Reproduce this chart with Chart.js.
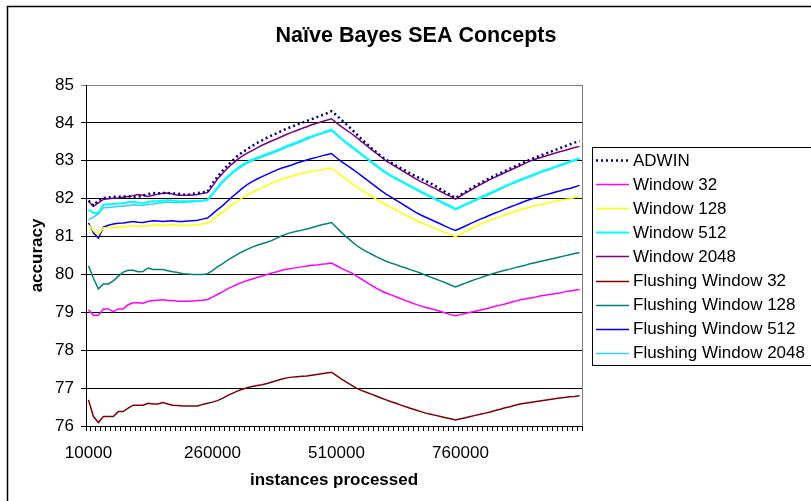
<!DOCTYPE html>
<html>
<head>
<meta charset="utf-8">
<script src="https://cdn.jsdelivr.net/npm/chart.js@4.4.0/dist/chart.umd.min.js"></script>
<style>
  html, body { margin: 0; padding: 0; background: #fff; }
</style>
</head>
<body>
<canvas id="chart" width="811" height="501"></canvas>
<script>
const instances = [
  10000, 20000, 30000, 40000, 50000, 60000, 70000, 80000, 90000, 100000,
  110000, 120000, 130000, 140000, 150000, 160000, 170000, 180000, 190000, 200000,
  210000, 220000, 230000, 240000, 250000, 260000, 270000, 280000, 290000, 300000,
  310000, 320000, 330000, 340000, 350000, 360000, 370000, 380000, 390000, 400000,
  410000, 420000, 430000, 440000, 450000, 460000, 470000, 480000, 490000, 500000,
  510000, 520000, 530000, 540000, 550000, 560000, 570000, 580000, 590000, 600000,
  610000, 620000, 630000, 640000, 650000, 660000, 670000, 680000, 690000, 700000,
  710000, 720000, 730000, 740000, 750000, 760000, 770000, 780000, 790000, 800000,
  810000, 820000, 830000, 840000, 850000, 860000, 870000, 880000, 890000, 900000,
  910000, 920000, 930000, 940000, 950000, 960000, 970000, 980000, 990000, 1000000
];
const tickLabels = ['10000', '260000', '510000', '760000'];

const adwin = [
  81.95, 81.82, 81.95, 82.02, 82.03, 82.05, 82.05, 82.06, 82.06, 82.05, 82.05, 82.08, 82.12, 82.15, 82.14, 82.15, 82.15, 82.14, 82.13, 82.11, 82.1, 82.13, 82.15, 82.17, 82.18,
  82.4, 82.58, 82.73, 82.87, 83.0, 83.12, 83.22, 83.31, 83.39, 83.47, 83.54, 83.61, 83.67, 83.73, 83.79, 83.85, 83.9, 83.95, 84.0, 84.05, 84.1, 84.15, 84.2, 84.25, 84.31,
  84.2, 84.08, 83.96, 83.84, 83.71, 83.58, 83.46, 83.34, 83.23, 83.12, 83.03, 82.95, 82.87, 82.8, 82.73, 82.66, 82.59, 82.53, 82.47, 82.4, 82.33, 82.25, 82.17, 82.09, 82.02,
  82.1, 82.18, 82.26, 82.34, 82.41, 82.48, 82.55, 82.61, 82.67, 82.73, 82.79, 82.85, 82.91, 82.97, 83.03, 83.08, 83.13, 83.18, 83.23, 83.28, 83.33, 83.38, 83.43, 83.48, 83.52
];
const win32 = [
  79.07, 78.92, 78.92, 79.09, 79.09, 79.02, 79.09, 79.09, 79.2, 79.25, 79.25, 79.24, 79.29, 79.31, 79.32, 79.33, 79.31, 79.31, 79.29, 79.29, 79.29, 79.3, 79.31, 79.32, 79.34,
  79.4, 79.47, 79.54, 79.62, 79.68, 79.74, 79.79, 79.84, 79.88, 79.92, 79.96, 80.0, 80.04, 80.07, 80.11, 80.14, 80.16, 80.18, 80.2, 80.22, 80.24, 80.25, 80.27, 80.28, 80.3,
  80.23, 80.16, 80.1, 80.04, 79.96, 79.88, 79.8, 79.72, 79.64, 79.57, 79.51, 79.46, 79.41, 79.36, 79.31, 79.26, 79.21, 79.17, 79.13, 79.1, 79.06, 79.02, 78.98, 78.94, 78.91,
  78.94, 78.97, 79.0, 79.03, 79.06, 79.09, 79.12, 79.16, 79.19, 79.22, 79.26, 79.29, 79.33, 79.35, 79.38, 79.4, 79.43, 79.45, 79.47, 79.49, 79.51, 79.54, 79.56, 79.58, 79.6
];
const win128 = [
  81.31, 81.15, 81.05, 81.23, 81.23, 81.24, 81.25, 81.26, 81.27, 81.28, 81.28, 81.27, 81.29, 81.3, 81.3, 81.29, 81.3, 81.31, 81.3, 81.29, 81.29, 81.3, 81.31, 81.33, 81.35,
  81.44, 81.54, 81.64, 81.74, 81.84, 81.93, 82.02, 82.1, 82.17, 82.23, 82.29, 82.35, 82.41, 82.47, 82.52, 82.56, 82.6, 82.63, 82.67, 82.7, 82.72, 82.74, 82.76, 82.79, 82.81,
  82.71, 82.61, 82.51, 82.41, 82.32, 82.23, 82.15, 82.07, 81.99, 81.91, 81.84, 81.77, 81.7, 81.63, 81.56, 81.5, 81.43, 81.37, 81.32, 81.26, 81.21, 81.15, 81.1, 81.05, 81.0,
  81.07, 81.13, 81.2, 81.26, 81.32, 81.38, 81.43, 81.48, 81.53, 81.57, 81.62, 81.66, 81.7, 81.74, 81.78, 81.81, 81.84, 81.87, 81.9, 81.93, 81.96, 81.98, 82.0, 82.03, 82.05
];
const win512 = [
  81.71, 81.62, 81.62, 81.84, 81.85, 81.86, 81.87, 81.88, 81.91, 81.92, 81.9, 81.88, 81.91, 81.93, 81.93, 81.95, 81.96, 81.95, 81.93, 81.93, 81.93, 81.94, 81.94, 81.95, 81.97,
  82.13, 82.3, 82.45, 82.58, 82.7, 82.8, 82.89, 82.97, 83.03, 83.08, 83.13, 83.18, 83.23, 83.28, 83.33, 83.39, 83.44, 83.49, 83.54, 83.6, 83.64, 83.69, 83.73, 83.78, 83.82,
  83.7, 83.59, 83.48, 83.38, 83.28, 83.18, 83.08, 82.98, 82.88, 82.78, 82.69, 82.61, 82.54, 82.47, 82.4, 82.33, 82.26, 82.19, 82.12, 82.06, 81.99, 81.93, 81.86, 81.8, 81.73,
  81.79, 81.85, 81.91, 81.97, 82.03, 82.09, 82.15, 82.21, 82.27, 82.33, 82.39, 82.44, 82.5, 82.55, 82.6, 82.65, 82.7, 82.75, 82.79, 82.84, 82.89, 82.93, 82.98, 83.02, 83.07
];
const win2048 = [
  81.93, 81.8, 81.89, 81.98, 82.0, 82.01, 82.02, 82.04, 82.06, 82.08, 82.11, 82.09, 82.06, 82.09, 82.12, 82.14, 82.15, 82.12, 82.09, 82.09, 82.09, 82.1, 82.11, 82.14, 82.16,
  82.33, 82.52, 82.66, 82.8, 82.92, 83.03, 83.12, 83.2, 83.27, 83.34, 83.41, 83.47, 83.53, 83.58, 83.64, 83.7, 83.75, 83.8, 83.85, 83.9, 83.95, 83.99, 84.03, 84.07, 84.11,
  84.0, 83.9, 83.81, 83.72, 83.62, 83.51, 83.41, 83.3, 83.2, 83.1, 83.0, 82.92, 82.84, 82.76, 82.68, 82.6, 82.52, 82.45, 82.39, 82.32, 82.26, 82.19, 82.12, 82.06, 81.99,
  82.07, 82.15, 82.22, 82.3, 82.37, 82.44, 82.51, 82.57, 82.63, 82.69, 82.75, 82.81, 82.87, 82.93, 82.99, 83.04, 83.08, 83.12, 83.16, 83.2, 83.24, 83.27, 83.31, 83.35, 83.38
];
const flush32 = [
  76.69, 76.25, 76.09, 76.25, 76.25, 76.25, 76.38, 76.38, 76.47, 76.55, 76.55, 76.55, 76.6, 76.58, 76.58, 76.62, 76.58, 76.55, 76.54, 76.53, 76.53, 76.53, 76.53, 76.57, 76.6,
  76.63, 76.67, 76.73, 76.8, 76.86, 76.92, 76.97, 77.01, 77.04, 77.07, 77.09, 77.12, 77.16, 77.2, 77.24, 77.27, 77.29, 77.3, 77.31, 77.32, 77.34, 77.36, 77.38, 77.4, 77.42,
  77.33, 77.24, 77.16, 77.08, 77.0, 76.94, 76.89, 76.84, 76.79, 76.74, 76.69, 76.64, 76.6, 76.55, 76.51, 76.46, 76.42, 76.38, 76.34, 76.31, 76.28, 76.25, 76.22, 76.19, 76.16,
  76.19, 76.22, 76.25, 76.28, 76.31, 76.34, 76.37, 76.41, 76.44, 76.48, 76.51, 76.55, 76.58, 76.6, 76.62, 76.64, 76.66, 76.68, 76.7, 76.72, 76.74, 76.75, 76.77, 76.78, 76.8
];
const flush128 = [
  80.23, 79.9, 79.62, 79.75, 79.75, 79.83, 79.95, 80.06, 80.11, 80.11, 80.07, 80.08, 80.17, 80.13, 80.13, 80.13, 80.1, 80.07, 80.05, 80.02, 80.01, 80.0, 80.0, 80.0, 80.02,
  80.1, 80.2, 80.28, 80.37, 80.45, 80.53, 80.6, 80.66, 80.72, 80.77, 80.81, 80.85, 80.9, 80.96, 81.02, 81.07, 81.11, 81.14, 81.17, 81.2, 81.23, 81.27, 81.31, 81.34, 81.37,
  81.24, 81.11, 80.99, 80.88, 80.77, 80.68, 80.61, 80.54, 80.47, 80.41, 80.35, 80.3, 80.26, 80.21, 80.17, 80.12, 80.08, 80.03, 79.98, 79.93, 79.88, 79.83, 79.78, 79.72, 79.67,
  79.72, 79.77, 79.82, 79.87, 79.91, 79.96, 80.0, 80.04, 80.08, 80.11, 80.14, 80.18, 80.21, 80.24, 80.28, 80.31, 80.34, 80.37, 80.4, 80.43, 80.46, 80.49, 80.52, 80.55, 80.58
];
const flush512 = [
  81.36, 81.1, 80.96, 81.25, 81.3, 81.33, 81.35, 81.36, 81.38, 81.4, 81.38, 81.37, 81.4, 81.42, 81.41, 81.4, 81.41, 81.42, 81.4, 81.4, 81.41, 81.42, 81.43, 81.46, 81.49,
  81.6, 81.71, 81.81, 81.93, 82.05, 82.16, 82.27, 82.37, 82.45, 82.52, 82.58, 82.64, 82.7, 82.76, 82.81, 82.85, 82.89, 82.94, 82.98, 83.02, 83.06, 83.09, 83.13, 83.16, 83.19,
  83.08, 82.98, 82.89, 82.8, 82.71, 82.61, 82.51, 82.41, 82.31, 82.21, 82.12, 82.04, 81.96, 81.88, 81.8, 81.72, 81.64, 81.57, 81.51, 81.45, 81.39, 81.33, 81.27, 81.21, 81.16,
  81.22, 81.28, 81.34, 81.4, 81.46, 81.51, 81.57, 81.62, 81.67, 81.73, 81.78, 81.83, 81.88, 81.93, 81.98, 82.02, 82.06, 82.1, 82.13, 82.17, 82.2, 82.24, 82.27, 82.31, 82.35
];
const flush2048 = [
  81.44, 81.52, 81.6, 81.76, 81.77, 81.78, 81.8, 81.8, 81.82, 81.84, 81.83, 81.82, 81.85, 81.86, 81.88, 81.9, 81.91, 81.9, 81.9, 81.9, 81.91, 81.92, 81.93, 81.94, 81.96,
  82.1, 82.27, 82.42, 82.55, 82.67, 82.77, 82.86, 82.94, 83.0, 83.05, 83.1, 83.15, 83.2, 83.25, 83.3, 83.36, 83.41, 83.46, 83.51, 83.57, 83.62, 83.67, 83.71, 83.76, 83.8,
  83.68, 83.57, 83.46, 83.36, 83.26, 83.16, 83.06, 82.96, 82.86, 82.76, 82.67, 82.59, 82.52, 82.45, 82.38, 82.31, 82.24, 82.17, 82.1, 82.04, 81.97, 81.91, 81.84, 81.78, 81.71,
  81.77, 81.83, 81.89, 81.95, 82.01, 82.07, 82.13, 82.19, 82.25, 82.31, 82.37, 82.42, 82.48, 82.53, 82.58, 82.63, 82.68, 82.73, 82.77, 82.82, 82.87, 82.91, 82.96, 83.0, 83.05
];

const FONT = '"Liberation Sans", Arial, sans-serif';
Chart.defaults.font.family = FONT;
Chart.defaults.font.size = 17;
Chart.defaults.color = '#000';

const series = [
  { label: 'ADWIN', data: adwin, color: '#000080', width: 2.5, dash: [2, 3] },
  { label: 'Window 32', data: win32, color: '#ff00ff', width: 1.5 },
  { label: 'Window 128', data: win128, color: '#ffff00', width: 1.5 },
  { label: 'Window 512', data: win512, color: '#00ffff', width: 2 },
  { label: 'Window 2048', data: win2048, color: '#800080', width: 1.5 },
  { label: 'Flushing Window 32', data: flush32, color: '#800000', width: 1.5 },
  { label: 'Flushing Window 128', data: flush128, color: '#008080', width: 1.5 },
  { label: 'Flushing Window 512', data: flush512, color: '#0000ff', width: 1.5 },
  { label: 'Flushing Window 2048', data: flush2048, color: '#33ccff', width: 1.5 }
];

// title, legend box, outer frame and the grey plot edge
const decor = {
  id: 'decor',
  beforeDatasetsDraw(chart) {
    const { ctx, chartArea: a } = chart;
    ctx.save();
    ctx.strokeStyle = '#808080';
    ctx.lineWidth = 1;
    ctx.beginPath();
    ctx.moveTo(a.right + 0.5, a.top);
    ctx.lineTo(a.right + 0.5, a.bottom);
    ctx.stroke();
    ctx.restore();
  },
  afterDraw(chart) {
    const ctx = chart.ctx;
    ctx.save();
    ctx.strokeStyle = '#000';
    ctx.lineWidth = 1.5;
    ctx.strokeRect(7.5, 6.5, 840, 540);

    ctx.fillStyle = '#000';
    ctx.font = 'bold 21.5px ' + FONT;
    ctx.textAlign = 'center';
    ctx.textBaseline = 'middle';
    ctx.fillText('Naïve Bayes SEA Concepts', 416, 36);

    ctx.lineWidth = 1;
    ctx.strokeRect(592.5, 147.5, 240, 218);
    ctx.font = '17px ' + FONT;
    ctx.textAlign = 'left';
    chart.data.datasets.forEach((ds, i) => {
      const y = 160 + i * 24.1;
      ctx.strokeStyle = ds.borderColor;
      ctx.lineWidth = ds.borderWidth;
      ctx.setLineDash(ds.borderDash || []);
      ctx.beginPath();
      ctx.moveTo(596, Math.round(y) + 0.5);
      ctx.lineTo(629, Math.round(y) + 0.5);
      ctx.stroke();
      ctx.setLineDash([]);
      ctx.fillStyle = '#000';
      ctx.fillText(ds.label, 633, y + 1);
    });
    ctx.restore();
  }
};

new Chart(document.getElementById('chart'), {
  type: 'line',
  data: {
    labels: instances,
    datasets: series.map(s => ({
      label: s.label,
      data: s.data,
      borderColor: s.color,
      backgroundColor: s.color,
      borderWidth: s.width,
      borderDash: s.dash || [],
      pointRadius: 0,
      tension: 0,
      fill: false
    }))
  },
  options: {
    responsive: false,
    animation: false,
    devicePixelRatio: 1,
    layout: { padding: { top: 85, right: 229, left: 0, bottom: 0 } },
    plugins: {
      legend: { display: false },
      tooltip: { enabled: false }
    },
    scales: {
      x: {
        type: 'category',
        offset: true,
        afterFit: s => { s.height = 75; },
        grid: { offset: true, drawOnChartArea: false, color: '#000', tickLength: 5 },
        border: { color: '#000', width: 1 },
        ticks: {
          autoSkip: false,
          maxRotation: 0,
          padding: 12,
          callback: function (v, i) {
            const l = String(instances[i]);
            return tickLabels.includes(l) ? l : '';
          }
        },
        title: {
          display: true,
          text: 'instances processed',
          font: { size: 17, weight: 'bold' },
          padding: { top: 0, bottom: 10 }
        }
      },
      y: {
        min: 76,
        max: 85,
        afterFit: s => { s.width = 86; },
        grid: {
          color: c => (c.tick && c.tick.value === 85 ? '#808080' : '#000'),
          tickLength: 5
        },
        border: { color: '#000', width: 1 },
        ticks: { stepSize: 1, padding: 7 },
        title: {
          display: true,
          text: 'accuracy',
          font: { size: 17, weight: 'bold' },
          padding: { top: 27, bottom: 0 }
        }
      }
    }
  },
  plugins: [decor]
});
</script>
</body>
</html>
